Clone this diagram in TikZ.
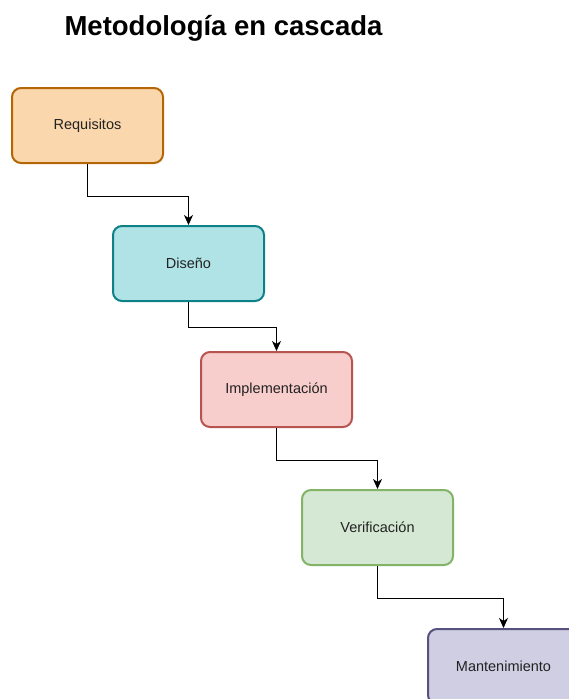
\documentclass[tikz,border=0pt]{standalone}
\usepackage{fontspec}
\setmainfont{Liberation Sans}
\usetikzlibrary{arrows.meta}

\definecolor{reqfill}{HTML}{FAD7AC}\definecolor{reqline}{HTML}{B46504}
\definecolor{disfill}{HTML}{B0E3E6}\definecolor{disline}{HTML}{0E8088}
\definecolor{impfill}{HTML}{F8CECC}\definecolor{impline}{HTML}{B85450}
\definecolor{verfill}{HTML}{D5E8D4}\definecolor{verline}{HTML}{82B366}
\definecolor{manfill}{HTML}{D0CEE2}\definecolor{manline}{HTML}{56517E}
\definecolor{labeltext}{HTML}{222222}

\begin{document}
\begin{tikzpicture}[x=1pt,y=-1pt,
  phase/.style={draw, line width=2pt, rounded corners=9pt,
    minimum width=151pt, minimum height=75pt, inner sep=0pt,
    text=labeltext, font=\fontsize{14.5}{17}\selectfont},
  flow/.style={draw=black, line width=1pt,
    -{Stealth[length=10pt,width=9pt,inset=3pt]}}]
  \useasboundingbox (0,0) rectangle (569,699);
  \clip (0,0) rectangle (569,699);

  \node[anchor=base, font=\bfseries\fontsize{27.5}{32}\selectfont] (title) at (223.5,35) {Metodología en cascada};

  \node[phase, fill=reqfill, draw=reqline] (req) at (87.5,125.5) {Requisitos};
  \node[phase, fill=disfill, draw=disline] (dis) at (188.5,263.5) {Diseño};
  \node[phase, fill=impfill, draw=impline] (imp) at (276.5,389.5) {Implementación};
  \node[phase, fill=verfill, draw=verline] (ver) at (377.5,527.5) {Verificación};
  \node[phase, fill=manfill, draw=manline] (man) at (503.5,666.5) {Mantenimiento};

  \draw[flow] (req.south) -- ++(0,32) -| (dis.north);
  \draw[flow] (dis.south) -- ++(0,25) -| (imp.north);
  \draw[flow] (imp.south) -- ++(0,32) -| (ver.north);
  \draw[flow] (ver.south) -- ++(0,32) -| (man.north);
\end{tikzpicture}
\end{document}
